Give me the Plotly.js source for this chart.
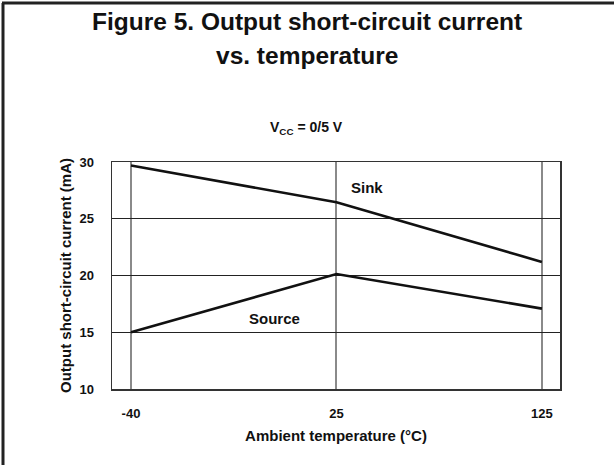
<!DOCTYPE html>
<html>
<head>
<meta charset="utf-8">
<script src="https://cdn.plot.ly/plotly-3.0.1.min.js"></script>
<style>
html,body{margin:0;padding:0;background:#fff;}
#chart{width:614px;height:465px;}
</style>
</head>
<body>
<div id="chart"></div>
<script>
// Data
var temperatures = ['-40', '25', '125'];
var sinkCurrent = [29.7, 26.45, 21.2];
var sourceCurrent = [15.0, 20.13, 17.08];
var yTicks = [10, 15, 20, 25, 30];
var titleLines = ['Figure 5. Output short-circuit current', 'vs. temperature'];

var W = 614, H = 465;
var M = {l: 112, r: 54, t: 162, b: 76};
var pw = W - M.l - M.r, ph = H - M.t - M.b;
function px(x) { return (x - M.l) / pw; }
function py(y) { return (H - M.b - y) / ph; }

var FONT = '"Liberation Sans", Arial, Helvetica, sans-serif';

var traces = [
  {x: temperatures, y: sinkCurrent, type: 'scatter', mode: 'lines', name: 'Sink',
   line: {color: '#111111', width: 2.6}, hoverinfo: 'x+y'},
  {x: temperatures, y: sourceCurrent, type: 'scatter', mode: 'lines', name: 'Source',
   line: {color: '#111111', width: 2.6}, hoverinfo: 'x+y'}
];

function label(text, x, y, size) {
  return {xref: 'paper', yref: 'paper', x: px(x), y: py(y),
          xanchor: 'center', yanchor: 'middle', showarrow: false, text: text,
          font: {family: FONT, size: size, weight: 'bold', color: '#111111'}};
}

var layout = {
  width: W, height: H,
  margin: M,
  paper_bgcolor: '#ffffff', plot_bgcolor: '#ffffff',
  showlegend: false,
  font: {family: FONT, color: '#111111'},
  xaxis: {
    type: 'category',
    range: [-0.0925, 2.088],
    showgrid: true, gridcolor: '#8a8a8a', gridwidth: 2,
    zeroline: false,
    showline: true, mirror: true, linecolor: '#333333', linewidth: 1.5,
    ticks: 'outside', ticklen: 12, tickcolor: 'rgba(0,0,0,0)',
    tickfont: {family: FONT, size: 13, weight: 'bold', color: '#111111'},
    title: {text: 'Ambient temperature (°C)', standoff: 10,
            font: {family: FONT, size: 15, weight: 'bold', color: '#111111'}}
  },
  yaxis: {
    range: [10, 30],
    tickvals: yTicks,
    showgrid: true, gridcolor: '#222222', gridwidth: 1,
    zeroline: false,
    showline: true, mirror: true, linecolor: '#333333', linewidth: 1.5,
    ticks: 'outside', ticklen: 14, tickcolor: 'rgba(0,0,0,0)',
    tickfont: {family: FONT, size: 13, weight: 'bold', color: '#111111'},
    title: {text: 'Output short-circuit current (mA)', standoff: 4,
            font: {family: FONT, size: 15, weight: 'bold', color: '#111111'}}
  },
  annotations: [
    label(titleLines[0], 307, 21, 24.5),
    label(titleLines[1], 307, 56, 24.5),
    label('V<sub>CC</sub> = 0/5 V', 306, 128, 14),
    label('Sink', 367, 187, 15),
    label('Source', 274, 318, 15)
  ],
  shapes: [
    {type: 'line', xref: 'paper', yref: 'paper', x0: px(3), x1: px(3), y0: py(3), y1: py(H + 2),
     line: {color: '#222222', width: 3}},
    {type: 'line', xref: 'paper', yref: 'paper', x0: px(2), x1: px(W + 2), y0: py(3), y1: py(3),
     line: {color: '#222222', width: 3}}
  ]
};

Plotly.newPlot('chart', traces, layout, {displayModeBar: false, staticPlot: true});
</script>
</body>
</html>
